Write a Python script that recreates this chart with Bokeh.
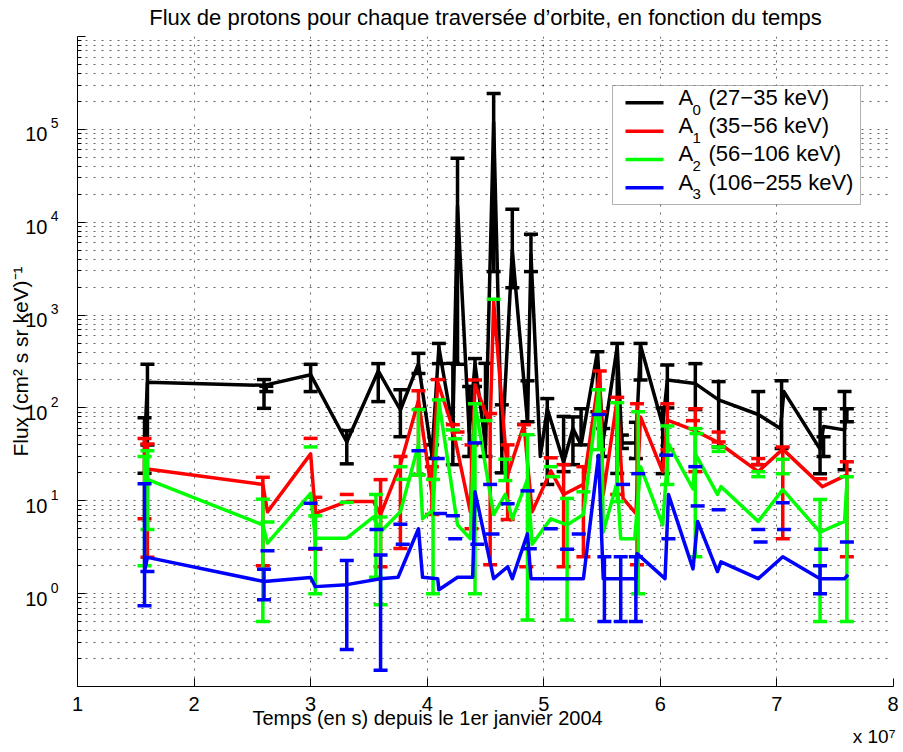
import math
from bokeh.plotting import figure
from bokeh.models import (FixedTicker, CustomJSTickFormatter, Label, BoxAnnotation, Title, LogAxis)
from bokeh.embed import file_html
from bokeh.resources import INLINE

# ---------------- data (time in units of 1e7 s, flux in (cm2 s sr keV)^-1) ----------------
T_UNIT = 1e7

black_t = [1.575, 1.60, 2.60, 3.00, 3.31, 3.58, 3.77, 3.925, 4.04, 4.10, 4.22, 4.26, 4.36, 4.41, 4.50,
           4.57, 4.64, 4.73, 4.86, 4.89, 4.97, 5.03, 5.17, 5.25, 5.32, 5.46, 5.51, 5.63, 5.67, 5.79,
           5.83, 6.02, 6.06, 6.30, 6.50, 6.84, 7.03, 7.06, 7.37, 7.40, 7.58, 7.60]
black_flux = [40, 189, 175, 228, 43, 250, 95, 300, 31, 450, 60, 15000, 55, 300, 40,
              120000, 35, 5000, 71, 4500, 30, 98, 26, 60, 40, 400, 45, 460, 42, 42,
              470, 65, 200, 183, 122, 85, 60, 150, 36, 63, 58, 100]
black_err_t = [1.575, 1.60, 2.60, 2.62, 3.00, 3.31, 3.58, 3.77, 3.925, 4.04, 4.10, 4.22, 4.26, 4.36, 4.41,
               4.50, 4.57, 4.64, 4.73, 4.86, 4.89, 5.03, 5.17, 5.25, 5.32, 5.46, 5.51, 5.63, 5.67, 5.79,
               5.83, 6.02, 6.06, 6.30, 6.50, 6.84, 7.04, 7.37, 7.40, 7.58, 7.60]
black_err_lo = [19.8, 40, 99, 150, 150, 25, 117, 49, 235, 28.6, 300, 24.5, 295, 30, 170,
                30, 2940, 20, 1970, 71, 2940, 15, 20.6, 24.5, 40, 91, 30, 19.7, 36.6, 28.5,
                200, 19.6, 100, 96, 38, 24.5, 36.6, 19.6, 30, 21.6, 71]
black_err_hi = [78.5, 295, 202, 171, 295, 57, 300, 157, 387, 40, 495, 302, 48700, 170, 340,
                302, 244000, 108, 13800, 196, 7400, 126, 81, 80, 98, 403, 60, 495, 51, 70,
                495, 100, 290, 300, 192, 150, 196, 98, 49, 150, 98]

red_t = [1.575, 1.60, 2.59, 2.63, 3.00, 3.04, 3.31, 3.54, 3.60, 3.77, 3.925, 4.04, 4.09, 4.22, 4.37,
         4.41, 4.54, 4.57, 4.69, 4.83, 4.90, 5.06, 5.17, 5.34, 5.48, 5.51, 5.63, 5.68, 5.79, 5.83,
         6.02, 6.06, 6.28, 6.49, 6.84, 7.05, 7.39, 7.60]
red_flux = [45, 22, 15, 7.6, 32, 7.3, 9.8, 9.8, 7.1, 24.5, 120, 12, 190, 60, 7.6,
            178, 66, 1400, 19, 66, 7.6, 21, 11.7, 15, 245, 11.7, 125, 10.6, 7.3, 80,
            20.6, 74, 58, 43, 20.6, 36, 14.2, 19]
red_err_t = [1.575, 1.60, 2.59, 3.00, 3.04, 3.31, 3.60, 3.77, 3.925, 4.04, 4.09, 4.22, 4.26, 4.38, 4.41,
             4.54, 4.69, 4.83, 4.85, 5.06, 5.17, 5.34, 5.48, 5.63, 5.80, 6.06, 6.28, 6.30, 6.50, 6.84,
             7.05, 7.37, 7.60]
red_err_lo = [6.4, 2.46, 2.0, None, 3.0, None, 1.95, 3.07, 19, 7.1, None, None, None, 5, None,
              2.05, 6.3, None, 1.95, None, 1.95, 2.5, 91, 11.7, 2.05, 35.5, None, 20.6, 43, 24.5,
              3.9, None, 2.5]
red_err_hi = [47, 41, 17.9, 47, 10.9, 11.7, 16.9, 30, 153, 23.3, 202, 66, 55, 40, 200,
              87, 40, 66, None, 29, 24.5, 23.3, 250, 130, 111, 111, 73, 98, 55, 28.5,
              38, 17.3, 26.4]

green_t = [1.575, 1.60, 2.59, 2.63, 3.00, 3.04, 3.31, 3.54, 3.60, 3.77, 3.925, 3.96, 4.05, 4.10, 4.26,
           4.37, 4.41, 4.57, 4.67, 4.73, 4.86, 4.90, 5.06, 5.20, 5.34, 5.47, 5.50, 5.51, 5.63, 5.66,
           5.78, 5.83, 6.02, 6.07, 6.28, 6.30, 6.49, 6.52, 6.84, 7.05, 7.37, 7.58, 7.60]
green_flux = [12, 17, 5.5, 3.5, 12, 3.95, 3.95, 6.7, 4.65, 7.6, 40, 6.4, 8, 117, 5.5,
              3.9, 111, 7.1, 11.7, 6.4, 17, 3.4, 6.4, 5.5, 7.1, 150, 34, 4.6, 16, 3.9,
              3.9, 23.3, 5.5, 41, 13.4, 32, 11.7, 14.2, 6, 13.2, 4.6, 6, 15.3]
green_err_t = [1.575, 1.60, 2.59, 2.63, 3.00, 3.04, 3.31, 3.56, 3.60, 3.77, 3.79, 3.925, 4.05, 4.10, 4.22,
               4.24, 4.41, 4.50, 4.57, 4.67, 4.86, 5.06, 5.08, 5.20, 5.34, 5.47, 5.63, 5.81, 6.06, 6.30,
               6.31, 6.50, 6.84, 7.05, 7.37, 7.60]
green_err_lo = [2.0, 4.9, 0.5, None, None, 1.0, None, 1.5, 0.76, None, None, 19, 1.0, None, None,
                None, 1.0, None, None, 16.5, 0.52, None, None, 0.52, None, 35.5, 9.8, 1.0, 15, 2.5,
                None, 34, 18.2, 19.6, 0.5, 0.5]
green_err_hi = [30, 34.6, 10.4, 5.9, 38, 6.9, 9.6, 11.7, 6.7, 23.3, 17, 96, 17, 122, 58,
                46.5, 111, 73, 1480, 28, 51.5, 23.3, 18.2, 10.6, 12.5, 157, 114, 91, 64, 60,
                53, 38, 20.6, 28, 10.3, 18.2]

blue_t = [1.575, 1.60, 2.60, 3.00, 3.04, 3.31, 3.60, 3.75, 3.925, 3.96, 4.09, 4.10, 4.26, 4.39, 4.41,
          4.57, 4.69, 4.73, 4.86, 4.89, 5.34, 5.47, 5.51, 5.79, 5.80, 6.04, 6.07, 6.28, 6.32, 6.49,
          6.52, 6.84, 7.05, 7.37, 7.58, 7.61]
blue_flux = [1.75, 2.46, 1.35, 1.49, 1.19, 1.25, 1.45, 1.5, 5, 1.5, 1.45, 1.1, 1.5, 1.5, 12.5,
             1.45, 1.95, 1.45, 4.4, 1.45, 1.45, 31, 1.45, 1.45, 2.7, 1.45, 11.7, 1.85, 6, 1.73,
             2.2, 1.45, 2.5, 1.45, 1.45, 1.6]
blue_err_t = [1.575, 1.60, 2.60, 2.63, 3.00, 3.04, 3.31, 3.565, 3.60, 3.77, 3.79, 3.925, 4.09, 4.11, 4.22,
              4.24, 4.41, 4.43, 4.54, 4.56, 4.69, 4.86, 4.88, 5.06, 5.20, 5.30, 5.47, 5.52, 5.66, 5.68,
              5.79, 5.81, 6.05, 6.07, 6.30, 6.32, 6.50, 6.84, 6.86, 7.05, 7.06, 7.37, 7.38, 7.60]
blue_err_lo = [0.74, None, 0.86, None, None, None, 0.25, None, 0.15, None, None, None, None, None, None,
               None, None, None, None, None, None, None, None, None, None, None, None, 0.5, 0.5, None,
               0.5, None, None, None, None, None, None, None, None, None, None, 1.0, None, None]
blue_err_hi = [15.3, 1.73, 1.83, 2.9, 9.4, 3.07, 2.27, 4.9, 2.6, 5.6, 3.4, 34.6, 28.5, 7.3, 6.9,
               3.9, 42, 3.4, 15, 4.4, 9.3, 12.8, 3.05, 5, 3, 4.4, 85, 2.5, 2.5, 15,
               2.5, 19.6, 31, 3.9, 23.3, 8.8, 8, 4.9, 3.6, 9.5, 4.9, 2.0, 3, 3.6]

x_ticks = [1, 2, 3, 4, 5, 6, 7, 8]
y_exponents = [0, 1, 2, 3, 4, 5]
legend_ranges = ["(27\u221235 keV)", "(35\u221256 keV)", "(56\u2212106 keV)", "(106\u2212255 keV)"]
series_colors = ["#000000", "#ff0000", "#00ff00", "#0000ff"]

TITLE = "Flux de protons pour chaque travers\u00e9e d\u2019orbite, en fonction du temps"
XLABEL = "Temps (en s) depuis le 1er janvier 2004"
YLABEL = "Flux (cm\u00b2 s sr keV)\u207b\u00b9"
XSCALE = "x 10\u2077"

# ---------------- figure ----------------
X0, X1 = 1e7, 8e7
Y0, Y1 = 0.1, 1e6
FW, FH = 816, 650
FONT = "Liberation Sans"
DEC_PX = FH / (math.log10(Y1) - math.log10(Y0))   # pixels per decade

p = figure(width=898, height=752, x_range=(X0, X1), y_range=(Y0, Y1), y_axis_type="log",
           output_backend="svg", toolbar_location=None,
           min_border_left=77, min_border_right=5, min_border_top=36, min_border_bottom=66)
p.outline_line_color = None
p.background_fill_color = "white"
p.border_fill_color = "white"


def fx(px):
    return X0 + px * (X1 - X0) / FW


def fy(py):
    return 10 ** (math.log10(Y1) - py * (math.log10(Y1) - math.log10(Y0)) / FH)


# title
p.title.text = TITLE
p.title.align = "center"
p.title.text_font = FONT
p.title.text_font_size = "22px"
p.title.text_font_style = "normal"
p.title.text_color = "black"
p.title.vertical_align = "top"
p.title.standoff = 9

# main axes (tick marks)
p.xaxis.ticker = FixedTicker(ticks=[t * T_UNIT for t in x_ticks])
p.xaxis.formatter = CustomJSTickFormatter(code="return (tick/1e7).toFixed(0);")
p.yaxis.ticker = FixedTicker(ticks=[10.0 ** k for k in range(-1, 7)],
                             minor_ticks=[m * 10.0 ** k for k in range(-1, 6) for m in range(2, 10)])
p.yaxis.formatter = CustomJSTickFormatter(code="return '';")

for ax in (p.xaxis, p.yaxis):
    ax.axis_line_color = "black"
    ax.axis_line_width = 1
    ax.major_tick_line_color = "black"
    ax.minor_tick_line_color = "black"
    ax.major_tick_out = 0
    ax.minor_tick_out = 0
    ax.major_label_text_font = FONT
    ax.major_label_text_font_size = "20px"
    ax.major_label_text_color = "black"
p.xaxis.major_tick_in = 8
p.xaxis.minor_tick_in = 0
p.xaxis.major_label_standoff = 10
p.yaxis.major_tick_in = 8
p.yaxis.minor_tick_in = 4
p.yaxis.major_label_standoff = 0

# y tick labels "10^k": exponent axis (closest) and mantissa axis (outer, carries the y label)
up = 6.0 / DEC_PX
down = 5.0 / DEC_PX
common = dict(axis_line_color=None, major_tick_line_color=None, minor_tick_line_color=None,
              major_tick_in=0, major_tick_out=0, minor_tick_in=0, minor_tick_out=0,
              major_label_text_font=FONT, major_label_text_color="black")
exp_axis = LogAxis(ticker=FixedTicker(ticks=[10 ** (k + up) for k in y_exponents]),
                   formatter=CustomJSTickFormatter(args=dict(up=up),
                                                   code="return String(Math.round(Math.log10(tick) - up));"),
                   major_label_text_font_size="14px", major_label_standoff=19, **common)
p.add_layout(exp_axis, "left")
ten_axis = LogAxis(ticker=FixedTicker(ticks=[10 ** (k - down) for k in y_exponents]),
                   formatter=CustomJSTickFormatter(code="return '10';"),
                   major_label_text_font_size="20px", major_label_standoff=0,
                   axis_label=YLABEL, axis_label_text_font=FONT, axis_label_text_font_size="21px",
                   axis_label_text_font_style="normal", axis_label_text_color="black", **common)
try:
    ten_axis.axis_label_standoff = -10
except Exception:
    ten_axis.axis_label_standoff = 0
p.add_layout(ten_axis, "left")

# x label and scale factor as titles below the x axis
xlab = Title(text=XLABEL, align="left", offset=175, text_font=FONT, text_font_size="20px",
             text_font_style="normal", text_color="black", vertical_align="top")
try:
    xlab.standoff = -14
except Exception:
    xlab.standoff = 0
p.add_layout(xlab, "below")
xsc = Title(text=XSCALE, align="right", offset=-2, text_font=FONT, text_font_size="19px",
            text_font_style="normal", text_color="black", vertical_align="bottom", standoff=0)
p.add_layout(xsc, "below")

# grid
for g in (p.xgrid, p.ygrid):
    g.grid_line_color = "black"
    g.grid_line_alpha = 0.6
    g.grid_line_dash = "2 6"
    g.grid_line_width = 1
p.ygrid.minor_grid_line_color = "black"
p.ygrid.minor_grid_line_alpha = 0.6
p.ygrid.minor_grid_line_dash = "2 6"
p.ygrid.minor_grid_line_width = 1

LW = 3.5


def draw_series(t, flux, et, elo, ehi, color):
    xs = [v * T_UNIT for v in t]
    p.line(xs, flux, line_color=color, line_width=LW, line_join="round")
    vx, vlo, vhi, cx, cy = [], [], [], [], []
    for x, lo, hi in zip(et, elo, ehi):
        xx = x * T_UNIT
        if lo is not None and hi is not None:
            vx.append(xx); vlo.append(lo); vhi.append(hi)
        if lo is not None:
            cx.append(xx); cy.append(lo)
        if hi is not None:
            cx.append(xx); cy.append(hi)
    p.segment(x0=vx, y0=vlo, x1=vx, y1=vhi, line_color=color, line_width=LW)
    p.scatter(cx, cy, marker="dash", size=14, line_color=color, line_width=LW)


draw_series(black_t, black_flux, black_err_t, black_err_lo, black_err_hi, series_colors[0])
draw_series(red_t, red_flux, red_err_t, red_err_lo, red_err_hi, series_colors[1])
draw_series(green_t, green_flux, green_err_t, green_err_lo, green_err_hi, series_colors[2])
draw_series(blue_t, blue_flux, blue_err_t, blue_err_lo, blue_err_hi, series_colors[3])


# ---------------- legend (inside the frame) ----------------
def lab(**kw):
    kw.setdefault("text_font", FONT)
    kw.setdefault("text_color", "black")
    l = Label(**kw)
    p.add_layout(l)
    return l


box = BoxAnnotation(left=fx(535), right=fx(783), top=fy(49), bottom=fy(168),
                    fill_color="white", fill_alpha=1.0, line_color="black", line_width=1)
p.add_layout(box)
ROW = 28.33
for i, (rng, col) in enumerate(zip(legend_ranges, series_colors)):
    ys = fy(66.3 + ROW * i)
    p.line([fx(548), fx(586)], [ys, ys], line_color=col, line_width=LW, level="overlay")
    yt = fy(60.7 + ROW * i)
    lab(x=fx(601), y=yt, text="A", text_align="left", text_baseline="middle", text_font_size="22px")
    lab(x=fx(615), y=fy(73 + ROW * i), text=str(i), text_align="left", text_baseline="middle",
        text_font_size="15px")
    lab(x=fx(631), y=yt, text=rng, text_align="left", text_baseline="middle", text_font_size="22px")

open("out.html", "w").write(file_html(p, INLINE))
